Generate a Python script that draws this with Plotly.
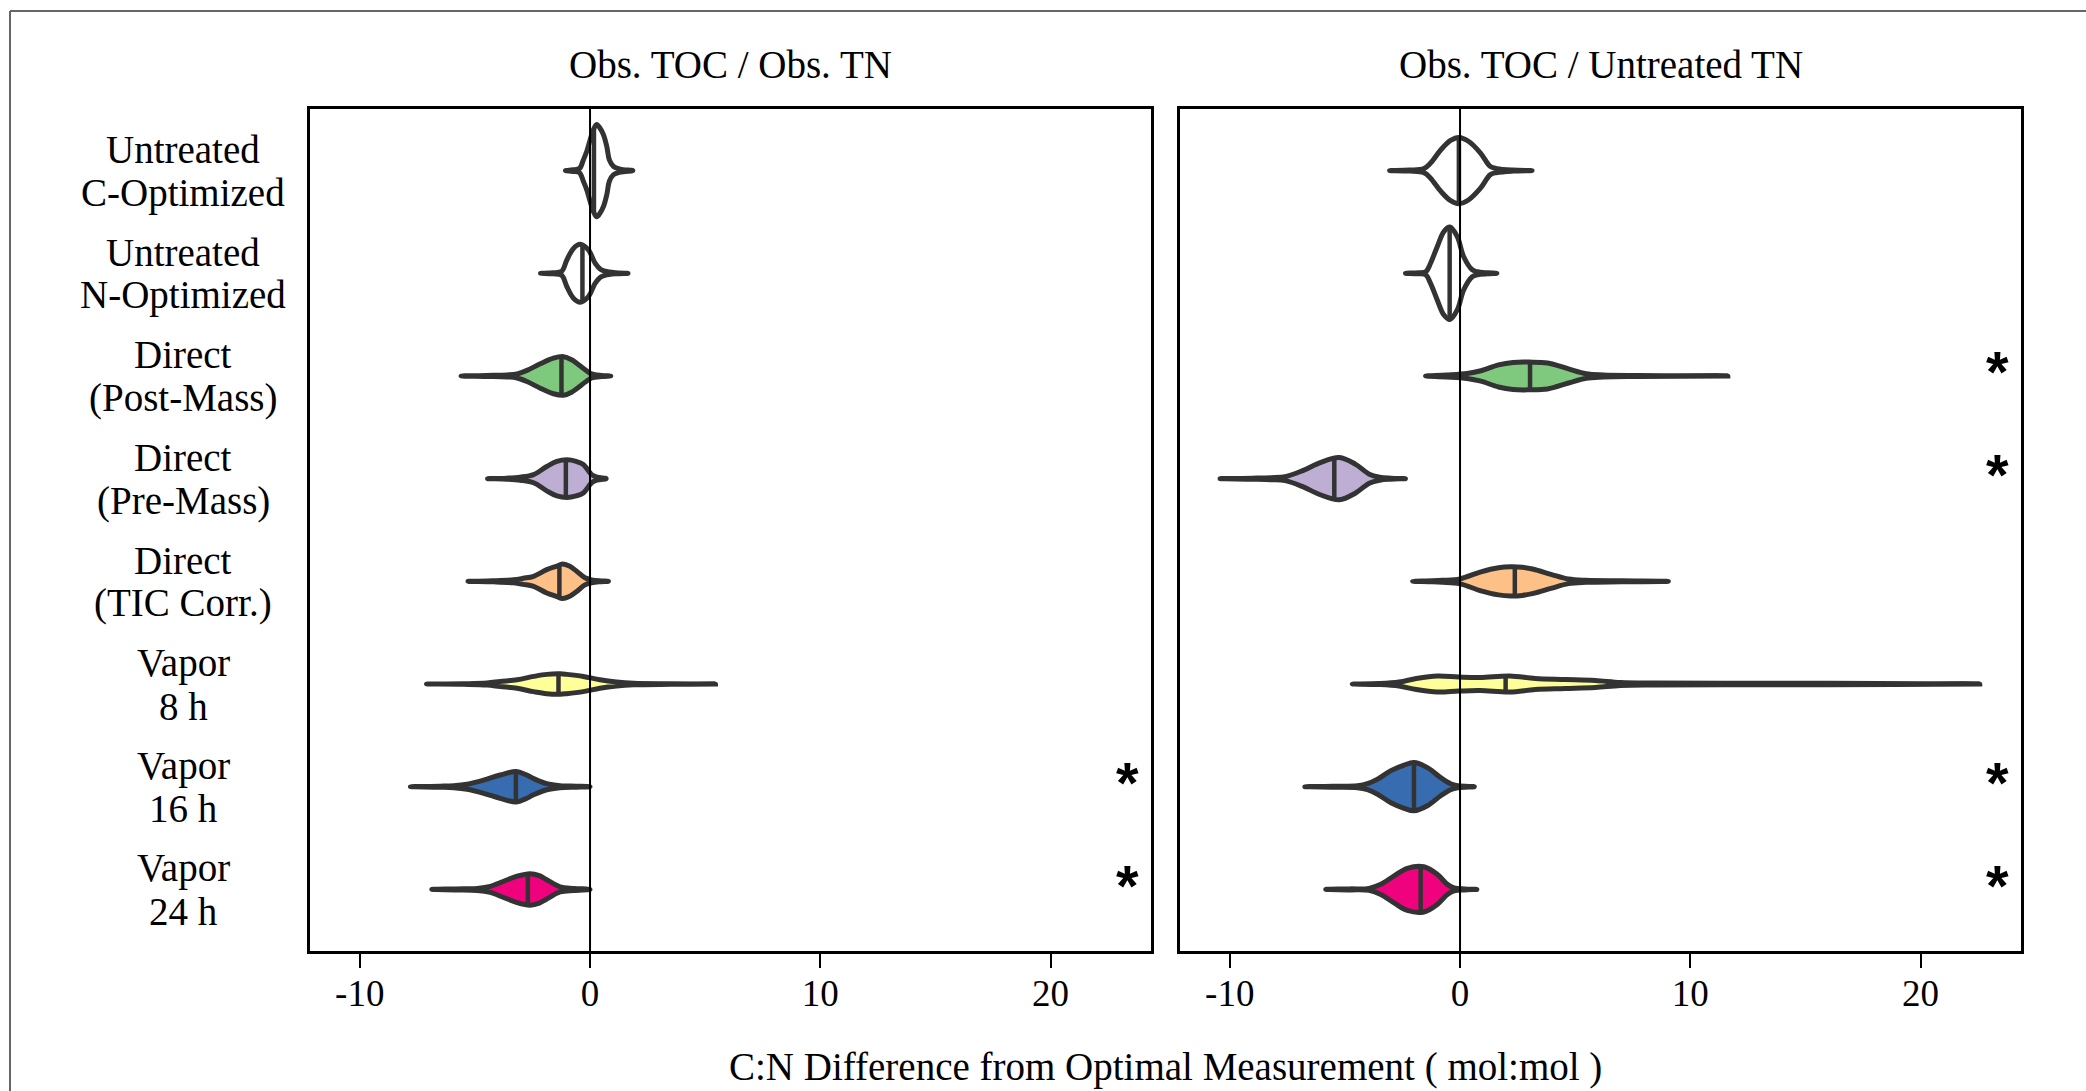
import numpy as np
import plotly.graph_objects as go

# ---------------- data ----------------
CATEGORIES = ["Untreated\nC-Optimized", "Untreated\nN-Optimized", "Direct\n(Post-Mass)",
              "Direct\n(Pre-Mass)", "Direct\n(TIC Corr.)", "Vapor\n8 h", "Vapor\n16 h", "Vapor\n24 h"]
PANEL_TITLES = ["Obs. TOC / Obs. TN", "Obs. TOC / Untreated TN"]
FILL_COLORS = ["#FFFFFF", "#FFFFFF", "#7FC97F", "#BEAED4", "#FDC086", "#FFFF99", "#386CB0", "#F0027F"]
X_TICKS = [-10, 0, 10, 20]
X_TITLE = "C:N Difference from Optimal Measurement ( mol:mol )"

# medians (mol:mol)
MEDIAN_OBS_TN = [0.17, -0.33, -1.24, -1.05, -1.33, -1.37, -3.22, -2.70]
MEDIAN_UNTREATED_TN = [-0.05, -0.45, 3.04, -5.46, 2.38, 1.98, -2.00, -1.71]
# significance markers
SIGNIF_OBS_TN = [False, False, False, False, False, False, True, True]
SIGNIF_UNTREATED_TN = [False, False, True, True, False, False, True, True]

# density profiles: value knots (x) and relative density (d)
# ---- panel 1: Obs. TOC / Obs. TN ----
OBS_UC_X = [-1.07, -0.75, -0.46, -0.29, -0.14, 0.0, 0.14, 0.29, 0.43, 0.59, 0.73, 0.84, 1.02, 1.31, 1.86]
OBS_UC_D = [0, 0.8, 2, 10.5, 19, 30, 40, 45.5, 42, 35, 23.5, 10.5, 4, 1.5, 0]
OBS_UN_X = [-2.15, -1.6, -1.23, -1.01, -0.72, -0.43, -0.07, 0.22, 0.45, 0.65, 1.1, 1.65]
OBS_UN_D = [0, 0.5, 2, 13, 24.5, 28.5, 23, 10, 4, 2, 0.5, 0]
OBS_POST_X = [-5.6, -4.5, -3.6, -3.17, -2.74, -2.16, -1.59, -1.15, -0.8, -0.58, -0.14, 0.07, 0.5, 0.9]
OBS_POST_D = [0, 0.5, 1, 2, 5.5, 12, 17.5, 19, 16, 12.5, 5, 2, 0.5, 0]
OBS_PRE_X = [-4.45, -3.6, -3.03, -2.45, -1.88, -1.44, -1.0, -0.6, -0.29, 0.07, 0.3, 0.7]
OBS_PRE_D = [0, 0.5, 1.5, 4, 12, 17, 18.5, 17, 14, 4, 1.5, 0]
OBS_TIC_X = [-5.3, -4.2, -3.32, -2.9, -2.45, -1.88, -1.44, -1.2, -0.9, -0.58, -0.22, 0.07, 0.4, 0.8]
OBS_TIC_D = [0, 0.5, 1.5, 3, 5, 11.5, 15, 17, 15, 10, 3.5, 1.5, 0.5, 0]
OBS_V8_X = [-7.1, -5.5, -4.47, -3.9, -3.17, -2.45, -1.88, -1.3, -1.01, -0.29, 0.43, 1.15, 1.9, 3.5, 5.45]
OBS_V8_D = [0, 0.3, 1, 2.5, 4.2, 7.5, 9.5, 10, 9.5, 7.5, 4.2, 2, 0.8, 0.3, 0]
OBS_V16_X = [-7.8, -6.5, -5.92, -5.34, -4.62, -3.9, -3.2, -2.8, -2.45, -1.88, -1.3, -0.6, 0.0]
OBS_V16_D = [0, 0.5, 1, 2.5, 6.5, 11.5, 15, 12, 8, 3, 1, 0.5, 0]
OBS_V24_X = [-6.87, -5.8, -4.9, -4.33, -3.75, -3.17, -2.6, -2.2, -1.88, -1.3, -0.7, 0.0]
OBS_V24_D = [0, 0.5, 1, 3, 8, 13, 15.5, 13.5, 9.5, 2.5, 1, 0]
# ---- panel 2: Obs. TOC / Untreated TN ----
UNT_UC_X = [-3.06, -2.2, -1.57, -1.28, -0.84, -0.41, -0.05, 0.38, 0.89, 1.32, 1.6, 2.3, 3.13]
UNT_UC_D = [0, 0.5, 2, 7.5, 20.5, 30, 33, 29, 17.5, 4, 2, 0.5, 0]
UNT_UN_X = [-2.37, -1.8, -1.49, -1.28, -0.99, -0.70, -0.44, -0.12, 0.16, 0.53, 0.75, 1.2, 1.6]
UNT_UN_D = [0, 0.5, 1.5, 10, 26.5, 41.5, 46, 36.5, 16.5, 3.5, 1.5, 0.5, 0]
UNT_POST_X = [-1.5, -0.6, 0.31, 0.91, 1.67, 2.3, 3.0, 3.8, 4.71, 5.47, 6.23, 7.75, 11.63]
UNT_POST_D = [0, 1, 2.5, 5.2, 11, 13.5, 13.8, 13, 7, 2.2, 1, 0.5, 0]
UNT_PRE_X = [-10.42, -9.0, -8.2, -7.59, -6.83, -6.07, -5.24, -4.55, -3.94, -3.49, -3.0, -2.37]
UNT_PRE_D = [0, 0.5, 1, 2, 8, 16, 21, 14.5, 4.5, 1.5, 0.5, 0]
UNT_TIC_X = [-2.06, -1.2, -0.76, 0.0, 0.91, 1.67, 2.2, 2.7, 3.19, 3.95, 4.71, 5.47, 7.0, 9.05]
UNT_TIC_D = [0, 0.5, 1, 2.5, 9.5, 13.5, 14.5, 14, 12, 7, 2.3, 1, 0.5, 0]
UNT_V8_X = [-4.68, -3.5, -2.65, -1.9, -0.98, -0.06, 0.87, 2.16, 3.27, 4.57, 5.87, 6.97, 8.5, 11.5, 16.0, 22.57]
UNT_V8_D = [0, 0.5, 2, 5.5, 8, 7, 6.5, 8, 5.5, 4.5, 3.5, 1.5, 1, 0.8, 0.7, 0]
UNT_V16_X = [-6.74, -5.5, -4.45, -4.02, -3.58, -3.0, -2.43, -2.0, -1.42, -0.84, -0.41, -0.1, 0.62]
UNT_V16_D = [0, 0.5, 1, 3, 7.5, 16, 21.5, 24, 19, 9, 3, 1, 0]
UNT_V24_X = [-5.83, -4.8, -3.95, -3.44, -2.86, -2.29, -1.57, -0.99, -0.55, -0.26, 0.2, 0.73]
UNT_V24_D = [0, 0.5, 1, 5, 13.5, 21, 22.5, 15, 5, 1.5, 0.5, 0]

PANEL1 = [(OBS_UC_X, OBS_UC_D), (OBS_UN_X, OBS_UN_D), (OBS_POST_X, OBS_POST_D), (OBS_PRE_X, OBS_PRE_D),
          (OBS_TIC_X, OBS_TIC_D), (OBS_V8_X, OBS_V8_D), (OBS_V16_X, OBS_V16_D), (OBS_V24_X, OBS_V24_D)]
PANEL2 = [(UNT_UC_X, UNT_UC_D), (UNT_UN_X, UNT_UN_D), (UNT_POST_X, UNT_POST_D), (UNT_PRE_X, UNT_PRE_D),
          (UNT_TIC_X, UNT_TIC_D), (UNT_V8_X, UNT_V8_D), (UNT_V16_X, UNT_V16_D), (UNT_V24_X, UNT_V24_D)]

# ---------------- figure ----------------
W, H = 2086, 1091
SERIF = "Liberation Serif, Times New Roman, serif"
OUTLINE = "#333333"
XRANGE = [-12.16, 24.36]
YRANGE = [8.6, 0.4]
TEXT_SIZE = 39

fig = go.Figure()


def px_x(p):
    return p / W


def px_y(p):
    return 1 - p / H


def add_panel(profiles, medians, xa, ya):
    dmax = max(max(d) for _, d in profiles)
    for i, ((xs, ds), med, col) in enumerate(zip(profiles, medians, FILL_COLORS)):
        row = i + 1
        xs = np.asarray(xs, float)
        hw = 0.45 * np.asarray(ds, float) / dmax
        x_path = np.concatenate([xs, xs[-2:0:-1], xs[:1]])
        y_path = np.concatenate([row - hw, (row + hw)[-2:0:-1], [row - hw[0]]])
        fig.add_trace(go.Scatter(
            x=x_path, y=y_path, mode="lines", fill="toself", fillcolor=col,
            line=dict(color=OUTLINE, width=5, shape="spline", smoothing=1),
            hoverinfo="skip", showlegend=False, xaxis=xa, yaxis=ya))
        mhw = 0.45 * np.interp(med, xs, np.asarray(ds, float)) / dmax
        fig.add_trace(go.Scatter(
            x=[med, med], y=[row - mhw, row + mhw], mode="lines",
            line=dict(color=OUTLINE, width=4.5), hoverinfo="skip", showlegend=False,
            xaxis=xa, yaxis=ya))


add_panel(PANEL1, MEDIAN_OBS_TN, "x", "y")
add_panel(PANEL2, MEDIAN_UNTREATED_TN, "x2", "y2")

axis_common = dict(showline=True, mirror=True, linecolor="black", linewidth=2.5,
                   showgrid=False, zeroline=False)
xaxis_common = dict(axis_common, range=XRANGE, tickvals=X_TICKS, ticktext=[str(t) for t in X_TICKS],
                    ticks="outside", ticklen=14, tickwidth=2, tickcolor="black",
                    ticklabelstandoff=-6,
                    tickfont=dict(family=SERIF, size=37, color="black"))
yaxis_common = dict(axis_common, range=YRANGE, showticklabels=False, ticks="",
                    domain=[px_y(951), px_y(109)])

fig.update_layout(
    width=W, height=H, margin=dict(l=0, r=0, t=0, b=0),
    paper_bgcolor="white", plot_bgcolor="white",
    xaxis=dict(xaxis_common, domain=[px_x(310), px_x(1151)], anchor="y"),
    xaxis2=dict(xaxis_common, domain=[px_x(1180), px_x(2021)], anchor="y2"),
    yaxis=dict(yaxis_common, anchor="x"),
    yaxis2=dict(yaxis_common, anchor="x2", matches="y"),
)

shapes = []
for xr in ["x", "x2"]:
    shapes.append(dict(type="line", xref=xr, yref=("y domain" if xr == "x" else "y2 domain"),
                       x0=0, x1=0, y0=0, y1=1, line=dict(color="black", width=2), layer="above"))
# outer frame (top and left edges)
shapes.append(dict(type="line", xref="paper", yref="paper", x0=px_x(10), x1=1, y0=px_y(11), y1=px_y(11),
                   line=dict(color="#666666", width=2)))
shapes.append(dict(type="line", xref="paper", yref="paper", x0=px_x(10), x1=px_x(10), y0=0, y1=px_y(11),
                   line=dict(color="#666666", width=2)))
fig.update_layout(shapes=shapes)

ann = []
# category labels
for i, cat in enumerate(CATEGORIES):
    lines = cat.split("\n")
    for j, ln in enumerate(lines):
        ann.append(dict(text=ln, xref="paper", yref="y", x=px_x(183), y=i + 1,
                        yshift=21 - 43 * j, xanchor="center", yanchor="middle", showarrow=False,
                        font=dict(family=SERIF, size=TEXT_SIZE, color="black")))
# panel titles
for t, (a, b) in zip(PANEL_TITLES, [(310, 1151), (1180, 2021)]):
    ann.append(dict(text=t, xref="paper", yref="paper", x=px_x((a + b) / 2), y=px_y(65),
                    xanchor="center", yanchor="middle", showarrow=False,
                    font=dict(family=SERIF, size=TEXT_SIZE, color="black")))
# x title
ann.append(dict(text=X_TITLE, xref="paper", yref="paper", x=px_x(1165.5), y=px_y(1067),
                xanchor="center", yanchor="middle", showarrow=False,
                font=dict(family=SERIF, size=TEXT_SIZE, color="black")))
# significance asterisks
for sig, xr, yr in [(SIGNIF_OBS_TN, "x", "y"), (SIGNIF_UNTREATED_TN, "x2", "y2")]:
    for i, s in enumerate(sig):
        if s:
            ann.append(dict(text="<b>*</b>", xref=xr, yref=yr, x=23.35, y=i + 1, yshift=4,
                            xanchor="center", yanchor="middle", showarrow=False,
                            font=dict(family="Liberation Sans, Arial, sans-serif", size=58, color="black")))
fig.update_layout(annotations=ann)

fig.write_html("out.html")
